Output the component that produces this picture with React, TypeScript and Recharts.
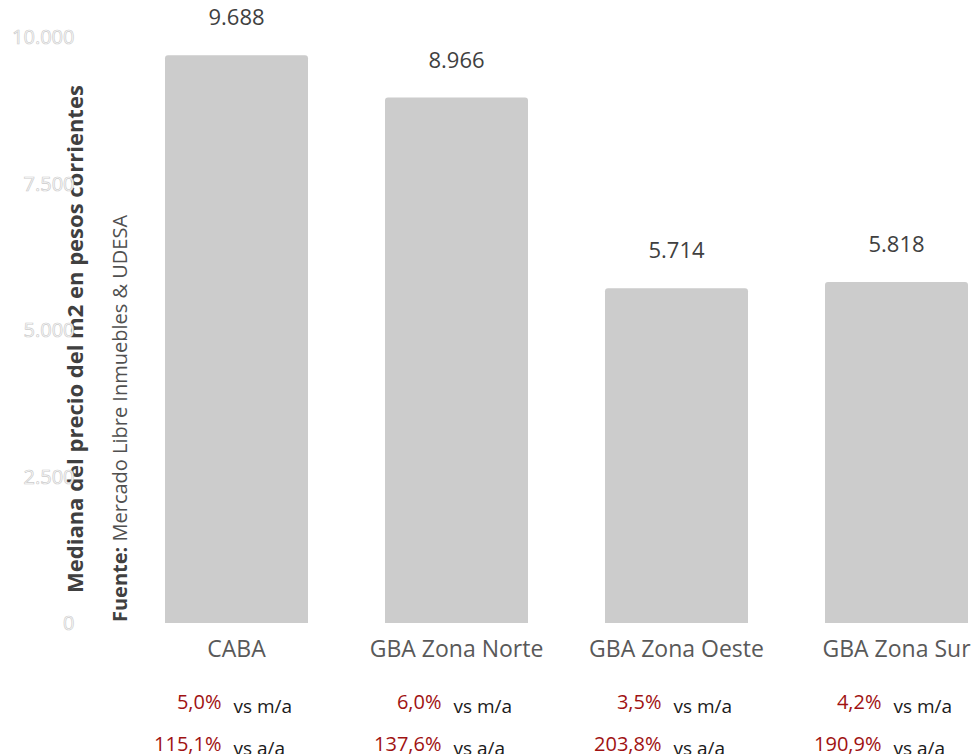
import { BarChart, Bar, XAxis, YAxis, LabelList } from "recharts";

const categories = ["CABA", "GBA Zona Norte", "GBA Zona Oeste", "GBA Zona Sur"];
const medianPrice = [9688, 8966, 5714, 5818];
const monthlyChange = ["5,0%", "6,0%", "3,5%", "4,2%"];
const yearlyChange = ["115,1%", "137,6%", "203,8%", "190,9%"];
const yTicks = [0, 2500, 5000, 7500, 10000];

const data = categories.map((name, i) => ({
  name,
  precio: medianPrice[i],
  mensual: monthlyChange[i],
  anual: yearlyChange[i],
}));

const FONT = "'Open Sans', sans-serif";
const RED = "#a01212";

// 9688 -> "9.688"
const fmt = (v: number) => String(v).replace(/\B(?=(\d{3})+(?!\d))/g, ".");

const YTick = ({ x, y, payload }: any) => (
  <text
    x={x}
    y={y}
    dy={7}
    textAnchor="end"
    fontFamily={FONT}
    fontSize={20}
    fill="#ffffff"
    stroke="#cccccc"
    strokeWidth={0.7}
  >
    {fmt(payload.value)}
  </text>
);

const XTick = ({ x, y, payload, index }: any) => {
  const i = index ?? categories.indexOf(payload.value);
  return (
    <g fontFamily={FONT}>
      <text x={x} y={y + 34} textAnchor="middle" fontSize={23} fill="#595959">
        {payload.value}
      </text>
      <text x={x - 15} y={y + 86} textAnchor="end" fontSize={20} fill={RED}>
        {monthlyChange[i]}
      </text>
      <text x={x - 3} y={y + 90} textAnchor="start" fontSize={19} fill="#1a1a1a">
        vs m/a
      </text>
      <text x={x - 15} y={y + 128} textAnchor="end" fontSize={20} fill={RED}>
        {yearlyChange[i]}
      </text>
      <text x={x - 3} y={y + 132} textAnchor="start" fontSize={19} fill="#1a1a1a">
        vs a/a
      </text>
    </g>
  );
};

const ValueLabel = ({ x, y, width, value }: any) => (
  <text
    x={x + width / 2}
    y={y - 30}
    textAnchor="middle"
    fontFamily={FONT}
    fontSize={22}
    fill="#404040"
    stroke="#ffffff"
    strokeWidth={3}
    paintOrder="stroke"
  >
    {fmt(value)}
  </text>
);

const AxisTitle = () => (
  <g fontFamily={FONT}>
    <text
      transform="translate(75, 585) rotate(-90)"
      fontSize={22}
      fontWeight={700}
      fill="#404040"
    >
      Mediana del precio del m2 en pesos corrientes
    </text>
    <text transform="translate(119, 614) rotate(-90)" fontSize={20} fill="#505050">
      <tspan fontWeight={700} fill="#404040">
        Fuente:
      </tspan>{" "}
      Mercado Libre Inmuebles &amp; UDESA
    </text>
  </g>
);

export default function App() {
  return (
    <div
      style={{
        position: "fixed",
        left: 8,
        top: 8,
        width: 967,
        height: 746,
        overflow: "hidden",
        background: "#fff",
      }}
    >
      <BarChart
        width={1000}
        height={746}
        data={data}
        margin={{ top: 29, right: 1.5, left: 0, bottom: 0 }}
        barCategoryGap="17.5%"
      >
        <XAxis
          dataKey="name"
          axisLine={false}
          tickLine={false}
          tickSize={0}
          tickMargin={0}
          height={131}
          interval={0}
          tick={<XTick />}
        />
        <YAxis
          width={118.5}
          domain={[0, 10000]}
          ticks={yTicks}
          axisLine={false}
          tickLine={false}
          tickSize={0}
          tickMargin={52}
          tick={<YTick />}
          label={{ content: <AxisTitle /> }}
        />
        <Bar dataKey="precio" fill="#cccccc" radius={[3, 3, 0, 0]} isAnimationActive={false}>
          <LabelList dataKey="precio" content={<ValueLabel />} />
        </Bar>
      </BarChart>
    </div>
  );
}
